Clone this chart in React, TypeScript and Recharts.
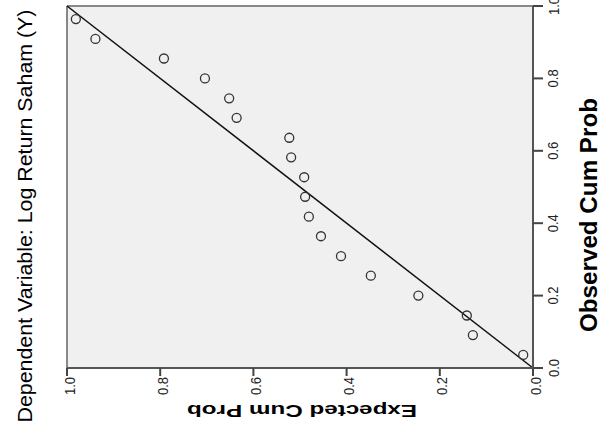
import { ScatterChart, Scatter, XAxis, YAxis, ReferenceLine, ReferenceArea, Label } from "recharts";

// Normal P-P plot (rotated layout): expected vs observed cumulative probability
const expectedCumProb = [0.981, 0.939, 0.792, 0.704, 0.652, 0.636, 0.523, 0.519, 0.491, 0.489, 0.481, 0.455, 0.412, 0.348, 0.246, 0.142, 0.129, 0.021];
const observedCumProb = [0.964, 0.909, 0.855, 0.8, 0.745, 0.691, 0.636, 0.582, 0.527, 0.473, 0.418, 0.364, 0.309, 0.255, 0.2, 0.145, 0.091, 0.036];
const axisTicks = [0, 0.2, 0.4, 0.6, 0.8, 1];

const points = expectedCumProb.map((e, i) => ({ expected: e, observed: observedCumProb[i] }));

const W = 602;
const H = 435;
const LEFT = 67;
const TOP = 6;
const RIGHT = 533;
const BOTTOM = 368;

const tickFont = "'Liberation Sans Narrow', 'Arial Narrow', 'Liberation Sans', Arial, sans-serif";
const labelFont = "'Liberation Sans', Arial, sans-serif";

const XTick = (props: any) => {
  const { x, payload } = props;
  const ly = 386;
  const lx = x + 2;
  return (
    <g>
      <line x1={x} y1={BOTTOM} x2={x} y2={BOTTOM + 8} stroke="#444" strokeWidth={2} />
      <text
        x={lx}
        y={ly}
        transform={`rotate(-90, ${lx}, ${ly})`}
        textAnchor="middle"
        dominantBaseline="central"
        fontFamily={tickFont}
        fontSize={15}
        textLength={18}
        lengthAdjust="spacingAndGlyphs"
        fill="#222"
      >
        {payload.value.toFixed(1)}
      </text>
    </g>
  );
};

const YTick = (props: any) => {
  const { y, payload } = props;
  const lx = 553;
  return (
    <g>
      <line x1={RIGHT} y1={y} x2={RIGHT + 10} y2={y} stroke="#444" strokeWidth={2} />
      <text
        x={lx}
        y={y}
        transform={`rotate(-90, ${lx}, ${y})`}
        textAnchor="middle"
        dominantBaseline="central"
        fontFamily={tickFont}
        fontSize={15}
        textLength={18}
        lengthAdjust="spacingAndGlyphs"
        fill="#222"
      >
        {payload.value.toFixed(1)}
      </text>
    </g>
  );
};

const Titles = () => (
  <g>
    <text
      x={302}
      y={405}
      transform="rotate(180, 302, 405)"
      textAnchor="middle"
      fontFamily={labelFont}
      fontWeight="bold"
      fontSize={17}
      textLength={230}
      lengthAdjust="spacingAndGlyphs"
      fill="#000"
    >
      Expected Cum Prob
    </text>
    <text
      x={597}
      y={215}
      transform="rotate(-90, 597, 215)"
      textAnchor="middle"
      fontFamily={labelFont}
      fontWeight="bold"
      fontSize={23}
      textLength={234}
      lengthAdjust="spacingAndGlyphs"
      fill="#000"
    >
      Observed Cum Prob
    </text>
    <text
      x={24}
      y={216}
      transform="rotate(-90, 24, 216)"
      textAnchor="middle"
      dominantBaseline="central"
      fontFamily={labelFont}
      fontSize={21}
      textLength={413}
      lengthAdjust="spacingAndGlyphs"
      fill="#000"
    >
      Dependent Variable: Log Return Saham (Y)
    </text>
  </g>
);

const Ring = (props: any) => (
  <circle cx={props.cx} cy={props.cy} r={4.5} fill="none" stroke="#333" strokeWidth={1.3} />
);

export default function App() {
  return (
    <div style={{ position: "absolute", left: 0, top: 0, width: W, height: H, background: "#fff" }}>
      <ScatterChart width={W} height={H} margin={{ top: TOP, right: 0, bottom: 0, left: LEFT }}>
        <XAxis
          type="number"
          dataKey="expected"
          domain={[0, 1]}
          reversed
          ticks={axisTicks}
          height={H - BOTTOM}
          tick={<XTick />}
          tickLine={false}
          axisLine={{ stroke: "#555", strokeWidth: 2 }}
          interval={0}
        >
          <Label content={() => <Titles />} />
        </XAxis>
        <YAxis
          type="number"
          dataKey="observed"
          orientation="right"
          domain={[0, 1]}
          ticks={axisTicks}
          width={W - RIGHT}
          tick={<YTick />}
          tickLine={false}
          axisLine={{ stroke: "#555", strokeWidth: 2 }}
          interval={0}
        />
        <ReferenceArea x1={0} x2={1} y1={0} y2={1} fill="#f0f0f0" fillOpacity={1} stroke="none" />
        <ReferenceLine x={1} stroke="#888" strokeWidth={2} />
        <ReferenceLine y={1} stroke="#888" strokeWidth={2} />
        <ReferenceLine segment={[{ x: 0, y: 0 }, { x: 1, y: 1 }]} stroke="#111" strokeWidth={1.5} />
        <Scatter data={points} shape={<Ring />} isAnimationActive={false} />
      </ScatterChart>
    </div>
  );
}
